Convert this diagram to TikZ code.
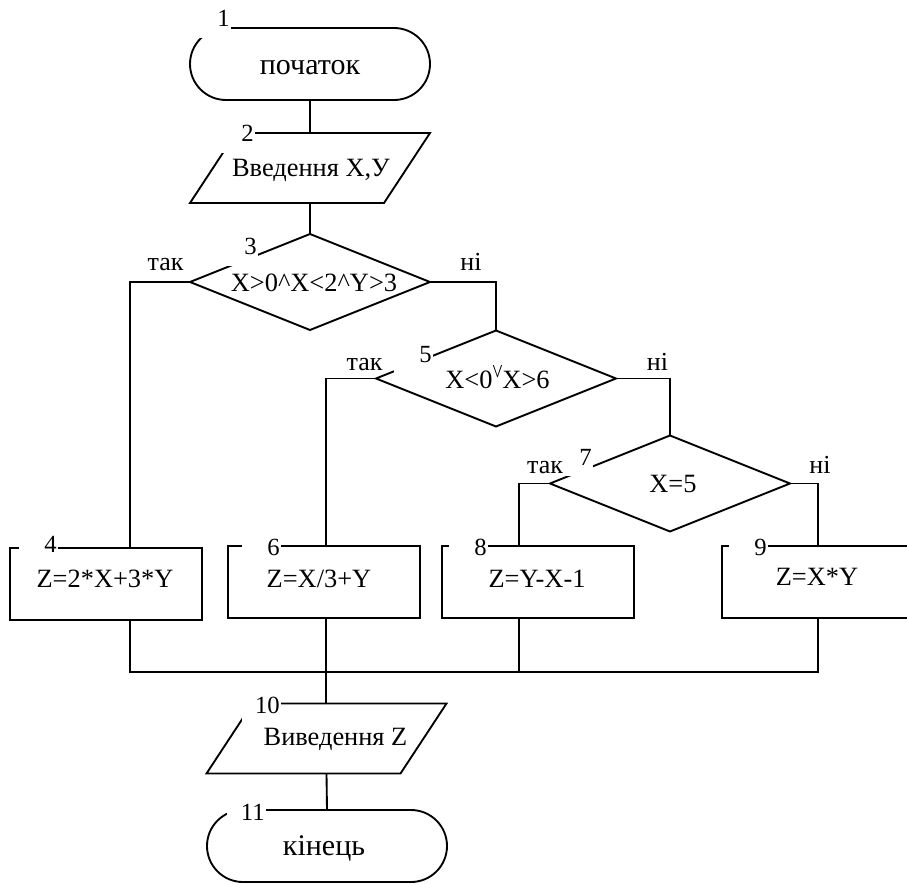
\documentclass[tikz,border=0pt]{standalone}
\usepackage{fontspec}
\setmainfont{Liberation Serif}
\usetikzlibrary{shapes.geometric,calc}
% logical operators as small raised chevrons
\newcommand{\andop}{\textasciicircum}
\newcommand{\orop}{\raisebox{1.04em}{\scalebox{0.8}[-1]{\textasciicircum}}}
% block numbers are right-aligned in a small white box
\newcommand{\nb}[1]{\makebox[27pt][r]{#1}}
% input/output parallelogram drawn inside a named frame node
\newcommand{\para}[1]{\draw (#1.south west) -- ([xshift=34.5pt]#1.north west)
  -- (#1.north east) -- ([xshift=-34.5pt]#1.south east) -- cycle;}
\begin{document}
\begin{tikzpicture}[x=0.75pt,y=-0.75pt, line width=1.4pt,
  every node/.style={inner sep=0pt, outer sep=0pt},
  term/.style={draw, rectangle, rounded corners=27pt, minimum width=180pt, minimum height=54pt},
  io/.style={rectangle, minimum width=180pt, minimum height=52.5pt},
  cond/.style={draw, diamond, minimum width=180pt, minimum height=72pt},
  proc/.style={draw, rectangle, minimum width=144pt, minimum height=54pt},
  txt/.style={font=\fontsize{19.8pt}{24pt}\selectfont, anchor=base},
  ttxt/.style={font=\fontsize{22.5pt}{27pt}\selectfont, anchor=base},
  branch/.style={font=\fontsize{19.5pt}{24pt}\selectfont, anchor=base},
  num/.style={fill=white, font=\fontsize{18.5pt}{22pt}\selectfont, anchor=base east,
    inner xsep=1pt, inner ysep=0.5pt, text height=14pt, text depth=7.5pt},
]
\clip (0,0) rectangle (907,884);
\fill[white] (0,0) rectangle (907,884);

% blocks
\node[term] (t1) at (310,64) {};
\node[io]   (p2) at (310,168) {};
\node[cond] (d3) at (310,282) {};
\node[cond] (d5) at (496,378.5) {};
\node[cond] (d7) at (670,483.5) {};
\node[proc] (b4) at (106,584) {};
\node[proc] (b6) at (324,582) {};
\node[proc] (b8) at (538,582) {};
\node[proc] (b9) at (818,582) {};
\node[io]   (p10) at (326.5,738.5) {};
\node[term] (t11) at (327,846) {};
\para{p2}
\para{p10}

% connector columns
\coordinate (b4top) at ([xshift=18pt]b4.north);
\coordinate (b4bot) at ([xshift=18pt]b4.south);
\coordinate (b6top) at ([xshift=1.5pt]b6.north);
\coordinate (b6bot) at ([xshift=1.5pt]b6.south);
\coordinate (b8top) at ([xshift=-14.25pt]b8.north);
\coordinate (b8bot) at ([xshift=-14.25pt]b8.south);
\coordinate (jn) at (326,672);

% connectors
\draw (t1.south) -- (p2.north);
\draw (p2.south) -- (d3.north);
\draw (d3.west) -| (b4top);
\draw (d3.east) -| (d5.north);
\draw (d5.west) -| (b6top);
\draw (d5.east) -| (d7.north);
\draw (d7.west) -| (b8top);
\draw (d7.east) -| (b9.north);
\draw (b4bot) |- (jn);
\draw (b9.south) |- (jn);
\draw (b8bot) -- (b8bot |- jn);
\draw (b6bot) -- (b6bot |- p10.north);
\draw (p10.south) -- (t11.north);

% block numbers
\node[num] (n1)  at (231,27)  {\nb{1}};
\node[num] (n2)  at (255,142) {\nb{2}};
\node[num] (n3)  at (258,255) {\nb{3}};
\node[num] (n4)  at (58,552)  {\nb{4}};
\node[num] (n5)  at (433,363) {\nb{5}};
\node[num] (n6)  at (281,555) {\nb{6}};
\node[num] (n7)  at (593,465) {\nb{7}};
\node[num] (n8)  at (488,555) {\nb{8}};
\node[num] (n9)  at (768,555) {\nb{9}};
\node[num] (n10) at (281,713) {\nb{10}};
\node[num] (n11) at (266,820) {\nb{11}};

% block texts
\node[ttxt] (x1)  at (310,75)    {початок};
\node[txt]  (x2)  at (311,177)   {Введення X,У};
\node[txt]  (x3)  at (314,292)   {X>0\andop X<2\andop Y>3};
\node[txt]  (x5)  at (497.5,388) {X<0\orop X>6};
\node[txt]  (x7)  at (673,492)   {X=5};
\node[txt]  (x4)  at (105,587)   {Z=2*X+3*Y};
\node[txt]  (x6)  at (319,587)   {Z=X/3+Y};
\node[txt]  (x8)  at (537,587)   {Z=Y-X-1};
\node[txt]  (x9)  at (817,585)   {Z=X*Y};
\node[txt]  (x10) at (335.5,745) {Виведення Z};
\node[ttxt] (x11) at (324,855)   {кінець};

% branch labels
\node[branch] (y3) at (165.5,271) {так};
\node[branch] (n3b) at (471,271)  {ні};
\node[branch] (y5) at (364.5,370) {так};
\node[branch] (n5b) at (657.5,370) {ні};
\node[branch] (y7) at (545,473)   {так};
\node[branch] (n7b) at (820,473)  {ні};
\end{tikzpicture}
\end{document}
